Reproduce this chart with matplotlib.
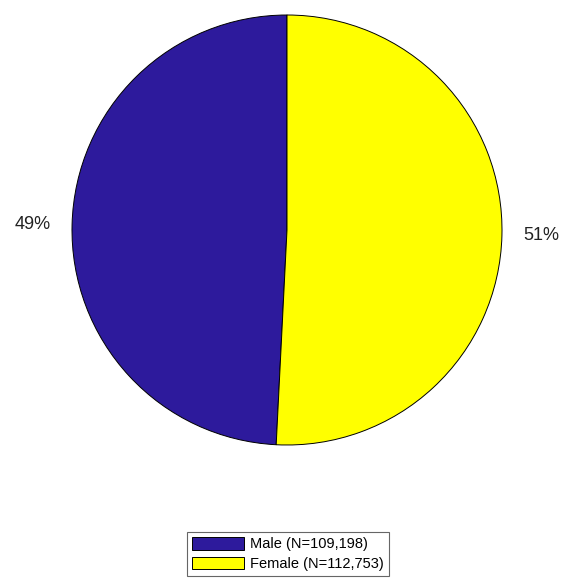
import matplotlib.pyplot as plt

plt.rcParams["font.family"] = ["Liberation Sans", "DejaVu Sans"]

groups = ["Male", "Female"]
counts = [109198, 112753]
pct_labels = ["49%", "51%"]
colors = ["#2d1a9c", "#ffff00"]

fig = plt.figure(figsize=(5.71, 5.80), dpi=100)
ax = fig.add_axes([72 / 571, 1 - 445 / 580, 430 / 571, 430 / 580])

wedges, texts = ax.pie(
    counts,
    labels=pct_labels,
    colors=colors,
    startangle=90,
    counterclock=True,
    labeldistance=1.1,
    wedgeprops=dict(edgecolor="black", linewidth=0.7),
    textprops=dict(fontsize=13, color="#222222"),
)
ax.set_xlim(-1, 1)
ax.set_ylim(-1, 1)
ax.set_aspect("auto")

legend_labels = ["{} (N={:,})".format(g, n) for g, n in zip(groups, counts)]
leg = fig.legend(
    wedges,
    legend_labels,
    loc="center",
    bbox_to_anchor=(288 / 571, 1 - 554 / 580),
    fontsize=10.5,
    handlelength=3.6,
    handleheight=0.95,
    handletextpad=0.4,
    labelspacing=0.35,
    borderpad=0.35,
    borderaxespad=0,
    fancybox=False,
    framealpha=1,
    edgecolor="0.4",
)
leg.get_frame().set_linewidth(0.8)

fig.savefig("out.png", dpi=100)
